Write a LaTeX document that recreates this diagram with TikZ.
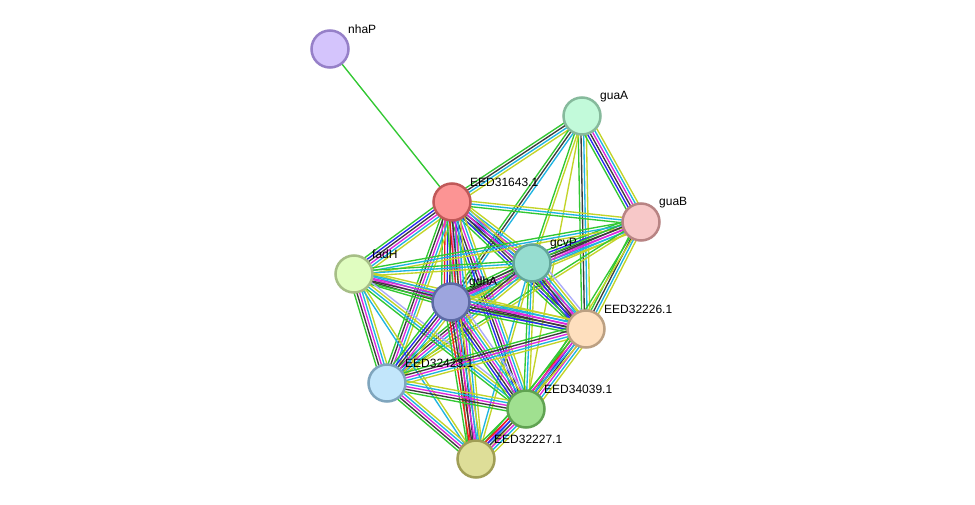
\documentclass[tikz,border=0pt]{standalone}
\usepackage{fontspec}
\setmainfont{Liberation Sans}
\usetikzlibrary{calc}
\pgfdeclarelayer{bg}
\pgfsetlayers{bg,main}
\definecolor{nb}{RGB}{50,200,50}
\definecolor{fu}{RGB}{240,30,30}
\definecolor{co}{RGB}{40,40,240}
\definecolor{cx}{RGB}{60,60,60}
\definecolor{ex}{RGB}{220,40,220}
\definecolor{db}{RGB}{30,180,225}
\definecolor{tm}{RGB}{195,212,40}
\definecolor{ho}{RGB}{170,170,250}
\tikzset{
  prot/.style={circle,minimum size=37pt,inner sep=0pt,line width=2.5pt},
  plabel/.style={anchor=west,inner sep=1pt,font=\fontsize{12}{14}\selectfont},
  edgeline/.style={line width=1.35pt}
}
\newcommand\sedge[3]{%
  \foreach \c [count=\i] in {#3} {\xdef\nlines{\i}}%
  \foreach \c [count=\i] in {#3} {%
    \pgfmathsetmacro\off{(\i-1-(\nlines-1)/2)*2.7}%
    \begin{pgfonlayer}{bg}
    \draw[edgeline,\c] ($(#1)!\off pt!90:(#2)$) -- ($(#2)!\off pt!-90:(#1)$);
    \end{pgfonlayer}
  }}
\begin{document}
\begin{tikzpicture}[x=1pt,y=-1pt]
\useasboundingbox (0,0) rectangle (975,505);
\begin{pgfonlayer}{bg}
\fill[white] (0,0) rectangle (975,505);
\end{pgfonlayer}
% nodes
\node[prot,fill={rgb,255:red,212;green,196;blue,252},draw={rgb,255:red,150;green,128;blue,200}] (N) at (330,49) {};
\node[prot,fill={rgb,255:red,194;green,250;blue,218},draw={rgb,255:red,134;green,186;blue,156}] (Q) at (582,116) {};
\node[prot,fill={rgb,255:red,252;green,148;blue,148},draw={rgb,255:red,192;green,88;blue,88}] (A) at (452,202) {};
\node[prot,fill={rgb,255:red,247;green,200;blue,200},draw={rgb,255:red,184;green,132;blue,132}] (B) at (641,222) {};
\node[prot,fill={rgb,255:red,150;green,221;blue,208},draw={rgb,255:red,98;green,166;blue,154}] (G) at (532,263) {};
\node[prot,fill={rgb,255:red,224;green,253;blue,192},draw={rgb,255:red,166;green,190;blue,134}] (F) at (354,274) {};
\node[prot,fill={rgb,255:red,157;green,165;blue,222},draw={rgb,255:red,93;green,106;blue,165}] (D) at (451,302) {};
\node[prot,fill={rgb,255:red,254;green,223;blue,190},draw={rgb,255:red,188;green,160;blue,130}] (C6) at (586,329) {};
\node[prot,fill={rgb,255:red,194;green,230;blue,251},draw={rgb,255:red,127;green,165;blue,189}] (C3) at (387,383) {};
\node[prot,fill={rgb,255:red,160;green,224;blue,144},draw={rgb,255:red,96;green,163;blue,82}] (E) at (526,409) {};
\node[prot,fill={rgb,255:red,222;green,222;blue,152},draw={rgb,255:red,160;green,158;blue,86}] (C7) at (476,459) {};
% labels
\node[plabel] (lN) at (347,29) {nhaP};
\node[plabel] (lQ) at (599,96.5) {guaA};
\node[plabel] (lA) at (469,182) {EED31643.1};
\node[plabel] (lB) at (658,202.5) {guaB};
\node[plabel] (lG) at (549,243.5) {gcvP};
\node[plabel] (lF) at (371,254) {fadH};
\node[plabel] (lD) at (468,282.5) {gdhA};
\node[plabel] (lC6) at (603,309) {EED32226.1};
\node[plabel] (lC3) at (404,363) {EED32423.1};
\node[plabel] (lE) at (543,389) {EED34039.1};
\node[plabel] (lC7) at (493,439) {EED32227.1};
% edges
\sedge{N}{A}{nb}
\sedge{Q}{A}{nb,cx,db,tm}
\sedge{Q}{D}{nb,cx,db}
\sedge{Q}{G}{nb,tm}
\sedge{Q}{C6}{nb,cx,db,tm}
\sedge{Q}{B}{nb,co,cx,ex,db,tm}
\sedge{Q}{E}{tm}
\sedge{A}{B}{nb,db,tm}
\sedge{A}{G}{nb,co,cx,ex,db,tm}
\sedge{A}{F}{nb,co,cx,ex,db,tm}
\sedge{A}{D}{nb,fu,co,cx,ex,db,tm,ho}
\sedge{A}{C6}{nb,co,cx,ex,db,tm}
\sedge{A}{C3}{nb,cx,ex,db,tm}
\sedge{A}{E}{nb,co,cx,ex,db,tm}
\sedge{A}{C7}{nb,fu,cx,ex,db,tm}
\sedge{B}{G}{nb,co,cx,ex,db,tm}
\sedge{B}{F}{nb,db,tm}
\sedge{B}{D}{nb,cx,ex,db,tm}
\sedge{B}{C6}{nb,cx,db,tm}
\sedge{B}{C3}{nb,tm}
\sedge{B}{E}{nb,tm}
\sedge{G}{F}{nb,db,tm}
\sedge{G}{D}{nb,cx,ex,db,tm}
\sedge{G}{C6}{nb,co,cx,ex,db,tm,ho}
\sedge{G}{C3}{nb,cx,ex,db,tm}
\sedge{G}{E}{nb,db,tm}
\sedge{G}{C7}{db,tm}
\sedge{F}{D}{nb,cx,ex,db,tm}
\sedge{F}{C6}{nb,cx,ex,db,tm}
\sedge{F}{C3}{nb,cx,ex,db,tm}
\sedge{F}{E}{nb,db,tm,ho}
\sedge{F}{C7}{db,tm}
\sedge{D}{C6}{nb,co,cx,ex,db,tm}
\sedge{D}{C3}{nb,co,cx,ex,db,tm}
\sedge{D}{E}{nb,co,cx,ex,db,tm,ho}
\sedge{D}{C7}{nb,fu,cx,ex,db,tm}
\sedge{C6}{C3}{nb,cx,ex,db,tm}
\sedge{C6}{E}{nb,fu,co,cx,ex,db,tm}
\sedge{C6}{C7}{nb,ex,db,tm}
\sedge{C3}{E}{nb,cx,ex,db,tm}
\sedge{C3}{C7}{nb,cx,ex,db,tm}
\sedge{E}{C7}{nb,fu,co,cx,ex,db,tm}
\end{tikzpicture}
\end{document}
